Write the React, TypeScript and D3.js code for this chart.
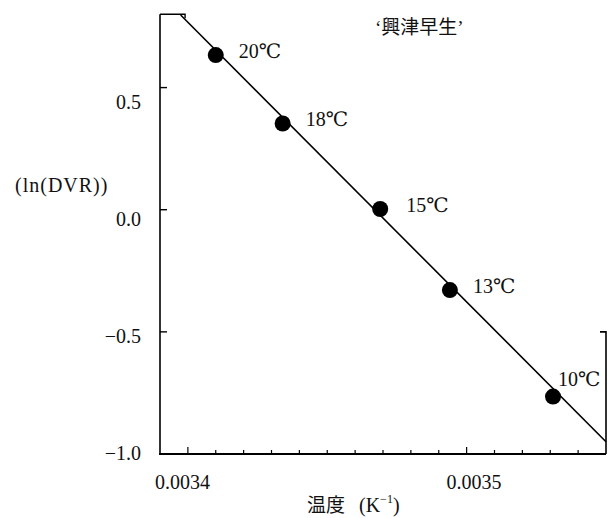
import React from "react";
import * as d3 from "d3";

// ---- data ----
const tempLabels = ["20℃", "18℃", "15℃", "13℃", "10℃"];
const invTemp = [0.00341, 0.003434, 0.003469, 0.003494, 0.003531];
const lnDVR = [0.633, 0.353, 0.003, -0.329, -0.765];
const fitX = [0.0033974, 0.00355];
const fitY = [0.797, -0.95];
const yTicks = [-1.0, -0.5, 0.0, 0.5];
const yTickLabels = ["−1.0", "−0.5", "0.0", "0.5"];
const xTicksMajor = [0.0034, 0.0035];
const xTickLabels = ["0.0034", "0.0035"];
const xMinorTicks = d3.range(0, 15).map((i) => 0.0034 + i * 0.00001);
const cultivar = "‘興津早生’";
const yTitle = "(ln(DVR))";

const W = 609;
const H = 518;
const SERIF = "'Liberation Serif', 'DejaVu Serif', 'Noto Sans CJK JP', serif";
const CJK = "'Noto Sans CJK JP', 'Liberation Serif', sans-serif";

export default function App() {
  const x = d3.scaleLinear().domain([0.00339, 0.00355]).range([160, 606]);
  const y = d3.scaleLinear().domain([-1.0, 0.8]).range([454, 14.3]);
  // label positions in the scanned figure are slightly offset from ticks
  const yLab = d3.scaleLinear().domain([-1.0, 0.5]).range([460, 108.5]);
  const xLab = d3.scaleLinear().domain([0.0034, 0.0035]).range([182.5, 474]);

  const line = d3
    .line<number>()
    .x((_, i) => x(fitX[i]))
    .y((d) => y(d));

  const x0 = x(0.00339);
  const x1 = x(0.00355);
  const yBot = y(-1.0);
  const yTop = y(0.8);

  return (
    <svg
      width={W}
      height={H}
      viewBox={`0 0 ${W} ${H}`}
      style={{ position: "absolute", left: 0, top: 0, background: "#fff" }}
    >
      <rect x={0} y={0} width={W} height={H} fill="#fff" />
      {/* left axis */}
      <line x1={x0} x2={x0} y1={yTop} y2={yBot} stroke="#000" strokeWidth={1.6} />
      {/* top stub */}
      <path d={`M${x0},${yTop} H${x(0.003399)} V${yTop + 4}`} fill="none" stroke="#000" strokeWidth={1.4} />
      {/* bottom axis */}
      <line x1={x0 - 1} x2={x1} y1={yBot} y2={yBot} stroke="#000" strokeWidth={2} />
      {/* right partial axis */}
      <path d={`M${x1 - 6},${y(-0.5)} H${x1} V${yBot}`} fill="none" stroke="#000" strokeWidth={1.6} />

      {/* y ticks */}
      {yTicks.map((t, i) => (
        <g key={"yt" + i}>
          {t > -1 && (
            <line x1={x0} x2={x0 + 7} y1={y(t)} y2={y(t)} stroke="#000" strokeWidth={1.4} />
          )}
          <text
            x={141}
            y={yLab(t)}
            textAnchor="end"
            fontFamily={SERIF}
            fontSize={20}
            fill="#111"
          >
            {yTickLabels[i]}
          </text>
        </g>
      ))}

      {/* x ticks */}
      {xMinorTicks.map((t, i) => {
        const major = xTicksMajor.some((m) => Math.abs(m - t) < 1e-9);
        return (
          <line
            key={"xm" + i}
            x1={x(t)}
            x2={x(t)}
            y1={yBot}
            y2={yBot - (major ? 7 : 4)}
            stroke="#000"
            strokeWidth={1.2}
          />
        );
      })}
      {xTicksMajor.map((t, i) => (
        <text
          key={"xl" + i}
          x={xLab(t)}
          y={488.5}
          textAnchor="middle"
          fontFamily={SERIF}
          fontSize={20}
          fill="#111"
        >
          {xTickLabels[i]}
        </text>
      ))}

      {/* regression line */}
      <path d={line(fitY) || ""} fill="none" stroke="#000" strokeWidth={1.6} />

      {/* points */}
      {invTemp.map((v, i) => (
        <circle key={"p" + i} cx={x(v)} cy={y(lnDVR[i])} r={8} fill="#000" />
      ))}
      {invTemp.map((v, i) => {
        const last = i === invTemp.length - 1;
        const dx = last ? 5 : i === 2 ? 26 : 23;
        const dy = last ? -10.5 : 3;
        return (
          <text
            key={"pl" + i}
            x={x(v) + dx}
            y={y(lnDVR[i]) + dy}
            fontFamily={SERIF}
            fontSize={20}
            fill="#111"
          >
            {tempLabels[i]}
          </text>
        );
      })}

      {/* cultivar label */}
      <text x={375} y={34} fontFamily={SERIF} fontSize={19} fill="#111">
        {cultivar}
      </text>

      {/* y axis title */}
      <text x={15} y={192} fontFamily={SERIF} fontSize={20} letterSpacing={1} fill="#111">
        {yTitle}
      </text>

      {/* x axis title */}
      <text y={512} fontSize={19} fill="#111">
        <tspan x={307} fontFamily={CJK}>温度</tspan>
        <tspan x={359} fontFamily={SERIF} fontSize={20}>(K</tspan>
        <tspan fontFamily={SERIF} fontSize={12} dy={-9}>−1</tspan>
        <tspan fontFamily={SERIF} fontSize={20} dy={9}>)</tspan>
      </text>
    </svg>
  );
}
